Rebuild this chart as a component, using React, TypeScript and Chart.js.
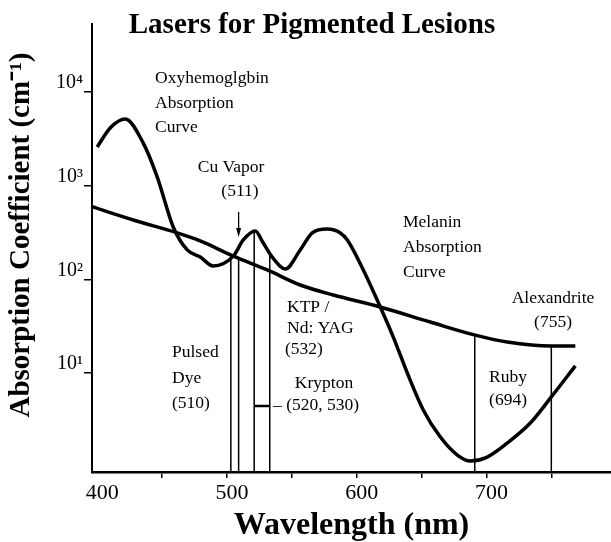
import React, { useEffect, useRef } from 'react';
import { Chart, registerables } from 'chart.js';

Chart.register(...registerables);

// ---- data ----
const chartTitle = 'Lasers for Pigmented Lesions';
const xAxisTitle = 'Wavelength (nm)';
const yAxisTitle = 'Absorption Coefficient (cm\u207B\u00B9)';

const oxyWavelength = [400, 410, 421.6, 435.5, 446.3, 458.6, 469.4, 479.4, 489.4, 504.9, 512.6, 521.8, 528, 534.9, 545, 556.5, 565.8, 577.3, 587.4, 592.8, 605.1, 618.2, 628.2, 639, 651.3, 664.5, 677.6, 687.6, 699.2, 716.1, 733.8, 750, 768.5];
const oxyAbsorption = [2588, 4130, 5150, 2850, 1236, 362, 206, 173, 139, 177, 263, 328, 244, 173, 129, 206, 313, 344, 313, 263, 126, 50.7, 24.2, 10, 4.03, 2.07, 1.33, 1.15, 1.24, 1.79, 2.92, 5.55, 11.9];

const melaninWavelength = [396, 429, 461.7, 479.4, 504.9, 531.1, 556.5, 582, 618.2, 656.7, 690.7, 716.1, 750, 768.5];
const melaninAbsorption = [595, 425, 313, 257, 177, 126, 87, 68, 50.7, 35, 25.5, 21.4, 19.4, 19.4];

const laserNames = ['Pulsed Dye', 'Cu Vapor', 'Krypton', 'KTP / Nd: YAG, Krypton', 'Ruby', 'Alexandrite'];
const laserWavelength = [503, 509, 521, 533, 691, 750];
const laserTop = [169, 169, 313, 182, 25.5, 19.4];

const xTickValues = [400, 450, 500, 550, 600, 650, 700, 750];
const xTickLabels = [400, 500, 600, 700];
const yTickValues = [10, 100, 1000, 10000];
const superscripts = ['\u2070', '\u00B9', '\u00B2', '\u00B3', '\u2074', '\u2075'];

// ---- layout / style ----
const serif = '"Liberation Serif", "Times New Roman", Times, serif';
const noteFont = `17.5px ${serif}`;
const notes = [
  { text: 'Oxyhemoglgbin', x: 155, y: 78, align: 'left' },
  { text: 'Absorption', x: 155, y: 103, align: 'left' },
  { text: 'Curve', x: 155, y: 127, align: 'left' },
  { text: 'Cu Vapor', x: 231, y: 167, align: 'center' },
  { text: '(511)', x: 240, y: 191, align: 'center' },
  { text: 'KTP /', x: 287, y: 307, align: 'left' },
  { text: 'Nd: YAG', x: 287, y: 328, align: 'left' },
  { text: '(532)', x: 285, y: 349, align: 'left' },
  { text: 'Melanin', x: 403, y: 222, align: 'left' },
  { text: 'Absorption', x: 403, y: 247, align: 'left' },
  { text: 'Curve', x: 403, y: 272, align: 'left' },
  { text: 'Alexandrite', x: 553, y: 298, align: 'center' },
  { text: '(755)', x: 553, y: 322, align: 'center' },
  { text: 'Pulsed', x: 172, y: 352, align: 'left' },
  { text: 'Dye', x: 172, y: 378, align: 'left' },
  { text: '(510)', x: 172, y: 403, align: 'left' },
  { text: 'Krypton', x: 324, y: 383, align: 'center' },
  { text: '\u2013 (520, 530)', x: 273, y: 405, align: 'left' },
  { text: 'Ruby', x: 508, y: 377, align: 'center' },
  { text: '(694)', x: 508, y: 400, align: 'center' },
];

const overlayPlugin = {
  id: 'overlay',
  afterDraw(chart: any) {
    const ctx = chart.ctx as CanvasRenderingContext2D;
    const xs = chart.scales.x;
    ctx.save();
    ctx.fillStyle = '#000';
    ctx.strokeStyle = '#000';

    // chart title
    ctx.font = `bold 29px ${serif}`;
    ctx.textAlign = 'center';
    ctx.textBaseline = 'alphabetic';
    ctx.fillText(chartTitle, 312, 33);

    // y-axis title
    ctx.save();
    ctx.translate(22, 235);
    ctx.rotate(-Math.PI / 2);
    ctx.font = `bold 29px ${serif}`;
    ctx.textAlign = 'center';
    ctx.textBaseline = 'middle';
    ctx.fillText(yAxisTitle, 0, 0);
    ctx.restore();

    // notes
    ctx.font = noteFont;
    ctx.textBaseline = 'middle';
    for (const n of notes) {
      ctx.textAlign = n.align as CanvasTextAlign;
      ctx.fillText(n.text, n.x, n.y);
    }

    // Cu vapor arrow
    const ax = xs.getPixelForValue(laserWavelength[1]);
    ctx.lineWidth = 1.3;
    ctx.beginPath();
    ctx.moveTo(ax, 212);
    ctx.lineTo(ax, 230);
    ctx.stroke();
    ctx.beginPath();
    ctx.moveTo(ax - 2.5, 228);
    ctx.lineTo(ax + 2.5, 228);
    ctx.lineTo(ax, 237);
    ctx.closePath();
    ctx.fill();

    // krypton connector
    const k1 = xs.getPixelForValue(laserWavelength[2]);
    const k2 = xs.getPixelForValue(laserWavelength[3]);
    ctx.lineWidth = 2.5;
    ctx.beginPath();
    ctx.moveTo(k1, 406);
    ctx.lineTo(k2, 406);
    ctx.stroke();

    ctx.restore();
  },
};

export default function App() {
  const ref = useRef<HTMLCanvasElement | null>(null);

  useEffect(() => {
    if (!ref.current) return;
    const yMin = 0.877;
    const curveStyle = {
      borderColor: '#000',
      borderWidth: 3.5,
      pointRadius: 0,
      fill: false,
      cubicInterpolationMode: 'monotone' as const,
    };
    const laserSets = laserWavelength.map((w, i) => ({
      label: laserNames[i],
      data: [
        { x: w, y: laserTop[i] },
        { x: w, y: yMin },
      ],
      borderColor: '#000',
      borderWidth: 1.5,
      pointRadius: 0,
      fill: false,
      tension: 0,
    }));

    const chart = new Chart(ref.current, {
      type: 'line',
      data: {
        datasets: [
          {
            label: 'Oxyhemoglobin',
            data: oxyWavelength.map((w, i) => ({ x: w, y: oxyAbsorption[i] })),
            ...curveStyle,
          },
          {
            label: 'Melanin',
            data: melaninWavelength.map((w, i) => ({ x: w, y: melaninAbsorption[i] })),
            ...curveStyle,
          },
          ...laserSets,
        ],
      },
      options: {
        animation: false,
        responsive: false,
        devicePixelRatio: 1,
        layout: { padding: { top: 24, left: 0, right: 0, bottom: 0 } },
        plugins: {
          legend: { display: false },
          tooltip: { enabled: false },
          title: { display: false },
        },
        scales: {
          x: {
            type: 'linear',
            min: 396,
            max: 796,
            afterBuildTicks: (s: any) => {
              s.ticks = xTickValues.map((v) => ({ value: v }));
            },
            afterFit: (s: any) => {
              s.height = 70;
            },
            border: { display: true, color: '#000', width: 2.5 },
            grid: {
              drawOnChartArea: false,
              drawTicks: true,
              tickLength: 6,
              lineWidth: 1.5,
              color: (c: any) => (c.tick && c.tick.value === 400 ? 'rgba(0,0,0,0)' : '#000'),
            },
            ticks: {
              color: '#000',
              font: { family: serif, size: 22 },
              padding: 2,
              labelOffset: 5,
              maxRotation: 0,
              autoSkip: false,
              callback: (v: any) => (xTickLabels.includes(Number(v)) ? String(v) : ''),
            },
            title: {
              display: true,
              text: xAxisTitle,
              color: '#000',
              font: { family: serif, size: 32, weight: 'bold', lineHeight: 1 },
              padding: 0,
            },
          },
          y: {
            type: 'logarithmic',
            min: yMin,
            max: 53200,
            afterBuildTicks: (s: any) => {
              s.ticks = yTickValues.map((v) => ({ value: v }));
            },
            afterFit: (s: any) => {
              s.width = 92;
            },
            border: { display: true, color: '#000', width: 2 },
            grid: {
              drawOnChartArea: false,
              tickLength: 8,
              lineWidth: 1.5,
              color: '#000',
            },
            ticks: {
              color: '#000',
              font: { family: serif, size: 20 },
              padding: 1,
              labelOffset: -9,
              autoSkip: false,
              callback: (v: any) => '10' + superscripts[Math.round(Math.log10(Number(v)))],
            },
            title: { display: false },
          },
        },
      },
      plugins: [overlayPlugin],
    });
    return () => chart.destroy();
  }, []);

  return (
    <div style={{ position: 'absolute', left: 0, top: 0, width: 611, height: 542, background: '#fff' }}>
      <canvas ref={ref} width={611} height={542} style={{ display: 'block' }} />
    </div>
  );
}
